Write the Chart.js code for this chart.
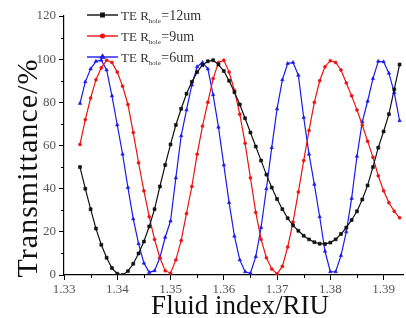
<!DOCTYPE html>
<html>
<head>
<meta charset="utf-8">
<script src="https://cdn.jsdelivr.net/npm/chart.js@4.4.1/dist/chart.umd.min.js"></script>
<style>
  html, body { margin: 0; padding: 0; background: #fff; }
  #wrap { width: 406px; height: 318px; }
</style>
</head>
<body>
<div id="wrap"><canvas id="transChart" width="406" height="318"></canvas></div>
<script>
// fluid index (RIU), one sample every 0.001
const fluidIndex = [1.333, 1.334, 1.335, 1.336, 1.337, 1.338, 1.339, 1.340, 1.341, 1.342,
    1.343, 1.344, 1.345, 1.346, 1.347, 1.348, 1.349, 1.350, 1.351, 1.352,
    1.353, 1.354, 1.355, 1.356, 1.357, 1.358, 1.359, 1.360, 1.361, 1.362,
    1.363, 1.364, 1.365, 1.366, 1.367, 1.368, 1.369, 1.370, 1.371, 1.372,
    1.373, 1.374, 1.375, 1.376, 1.377, 1.378, 1.379, 1.380, 1.381, 1.382,
    1.383, 1.384, 1.385, 1.386, 1.387, 1.388, 1.389, 1.390, 1.391, 1.392, 1.393];

// transmittance (%) per hole radius
const hole12 = [50, 40, 30.5, 21.5, 14, 8, 3.2, 0.6, 0, 1.8, 5.2, 10, 15.5, 22.5, 30.5, 41, 51, 60.5, 69.5, 77,
    84, 89.5, 94, 97.3, 99, 99.5, 97.5, 94.5, 90, 84.7, 79, 72.6, 66, 59.5, 53, 46.5, 40.5, 35.2, 30.5, 26.3,
    23, 20.5, 18.2, 16.5, 15.2, 14.5, 14.4, 15, 16.5, 19, 22, 25.5, 29.5, 35, 41.5, 50, 59, 66.5, 74.5, 86, 97.5];
const hole9 = [60.5, 72, 82, 90.5, 96, 99.5, 98.5, 94, 87.5, 79, 66, 52, 39, 27, 16.5, 8, 2, 0.8, 7, 16,
    28.5, 41, 56, 69, 80, 91, 98.5, 99.5, 94, 85.5, 74.5, 61, 45, 29, 16.5, 8, 2.8, 0.5, 4, 13,
    24.5, 38.5, 53, 67, 80, 90, 96.5, 99.3, 98.5, 95, 89, 83, 76.5, 69.5, 62, 54.5, 46, 39, 33.5, 29.5, 26.5];
const hole6 = [79.5, 89.5, 95.5, 99, 99.5, 95, 83, 69.5, 56, 40.5, 26, 14.5, 5.5, 1.2, 2, 8, 17.5, 25, 45, 64.5,
    76.5, 88, 96.5, 98.5, 95.5, 83.5, 68.5, 51, 33.5, 18, 7, 1.5, 0.8, 8.5, 22, 40, 59, 77, 90.5, 98,
    98.5, 92.5, 73, 56, 42, 27, 11, 1.5, 1.5, 9, 20, 35.5, 55, 71, 80.5, 91, 99, 98.8, 93.5, 84.5, 71.5];

const seriesNames = ['=12um', '=9um', '=6um'];
const xTicks = [1.33, 1.34, 1.35, 1.36, 1.37, 1.38, 1.39];
const xMinorTicks = [1.335, 1.345, 1.355, 1.365, 1.375, 1.385];
const yTicks = [0, 20, 40, 60, 80, 100, 120];
const yMinorTicks = [10, 30, 50, 70, 90, 110];

const serif = "'Liberation Serif', 'Times New Roman', serif";
const toPoints = vals => vals.map((v, i) => ({ x: fluidIndex[i], y: v }));

const lineSet = (name, vals, color, style, r) => ({
    label: name,
    data: toPoints(vals),
    borderColor: color,
    backgroundColor: color,
    borderWidth: 1.2,
    pointStyle: style,
    pointRadius: r,
    pointHoverRadius: r,
    pointBorderWidth: 0.6,
    tension: 0
});

// legend, axis titles and minor ticks drawn by hand
const decorPlugin = {
    id: 'decor',
    afterDraw(chart) {
        const ctx = chart.ctx;
        const xs = chart.scales.x, ys = chart.scales.y;
        const area = chart.chartArea;

        ctx.save();
        ctx.strokeStyle = '#000';
        ctx.lineWidth = 1;
        ctx.beginPath();
        xMinorTicks.forEach(v => {
            const px = Math.round(xs.getPixelForValue(v)) + 0.5;
            ctx.moveTo(px, area.bottom);
            ctx.lineTo(px, area.bottom + 3);
        });
        yMinorTicks.forEach(v => {
            const py = Math.round(ys.getPixelForValue(v)) + 0.5;
            ctx.moveTo(area.left, py);
            ctx.lineTo(area.left - 3, py);
        });
        ctx.stroke();

        // axis titles
        ctx.fillStyle = '#111';
        ctx.textAlign = 'center';
        ctx.textBaseline = 'alphabetic';
        ctx.font = '27px ' + serif;
        ctx.fillText('Fluid index/RIU', 240, 314);
        ctx.translate(37, 168);
        ctx.rotate(-Math.PI / 2);
        ctx.font = '30px ' + serif;
        ctx.letterSpacing = '1px';
        ctx.fillText('Transmittance/%', 0, 0);
        ctx.restore();

        // legend
        ctx.save();
        const rows = [15, 36, 57];
        chart.data.datasets.forEach((ds, i) => {
            const y = rows[i];
            ctx.strokeStyle = ds.borderColor;
            ctx.fillStyle = ds.borderColor;
            ctx.lineWidth = 1.4;
            ctx.beginPath();
            ctx.moveTo(87, y);
            ctx.lineTo(118, y);
            ctx.stroke();
            Chart.helpers.drawPoint(ctx, {
                pointStyle: ds.pointStyle, radius: ds.pointRadius + 0.3, borderWidth: 0.6
            }, 102.5, y);

            ctx.fillStyle = '#333';
            ctx.textAlign = 'left';
            ctx.textBaseline = 'alphabetic';
            ctx.font = '13px ' + serif;
            let x = 121;
            ctx.fillText('TE R', x, y + 5);
            x += ctx.measureText('TE R').width;
            ctx.font = '7px ' + serif;
            ctx.fillText('hole', x, y + 8);
            x += ctx.measureText('hole').width + 0.5;
            ctx.font = '14px ' + serif;
            ctx.fillText(ds.label, x, y + 5);
        });
        ctx.restore();
    }
};

new Chart(document.getElementById('transChart').getContext('2d'), {
    type: 'line',
    data: {
        datasets: [
            lineSet(seriesNames[0], hole12, '#111111', 'rect', 2.1),
            lineSet(seriesNames[1], hole9, '#ee1111', 'circle', 1.5),
            lineSet(seriesNames[2], hole6, '#1a1aee', 'triangle', 2.0)
        ]
    },
    options: {
        responsive: false,
        animation: false,
        devicePixelRatio: 1,
        layout: { padding: { top: 16, right: 0, left: 0, bottom: 0 } },
        plugins: {
            legend: { display: false },
            tooltip: { enabled: false }
        },
        scales: {
            x: {
                type: 'linear',
                min: 1.33,
                max: 1.3937,
                afterBuildTicks: scale => { scale.ticks = xTicks.map(v => ({ value: v })); },
                afterFit: scale => { scale.height = 43; },
                ticks: {
                    callback: v => v.toFixed(2),
                    font: { family: serif, size: 13 },
                    color: '#555',
                    padding: 2,
                    maxRotation: 0,
                    autoSkip: false
                },
                grid: { drawOnChartArea: false, tickLength: 5, tickColor: '#000', tickWidth: 1 },
                border: { color: '#000', width: 1.2 }
            },
            y: {
                min: 0,
                max: 120,
                afterBuildTicks: scale => { scale.ticks = yTicks.map(v => ({ value: v })); },
                afterFit: scale => { scale.width = 64; },
                ticks: {
                    font: { family: serif, size: 13 },
                    color: '#555',
                    padding: 3
                },
                grid: { drawOnChartArea: false, tickLength: 5, tickColor: '#000', tickWidth: 1 },
                border: { color: '#000', width: 1.2 }
            }
        }
    },
    plugins: [decorPlugin]
});
</script>
</body>
</html>
